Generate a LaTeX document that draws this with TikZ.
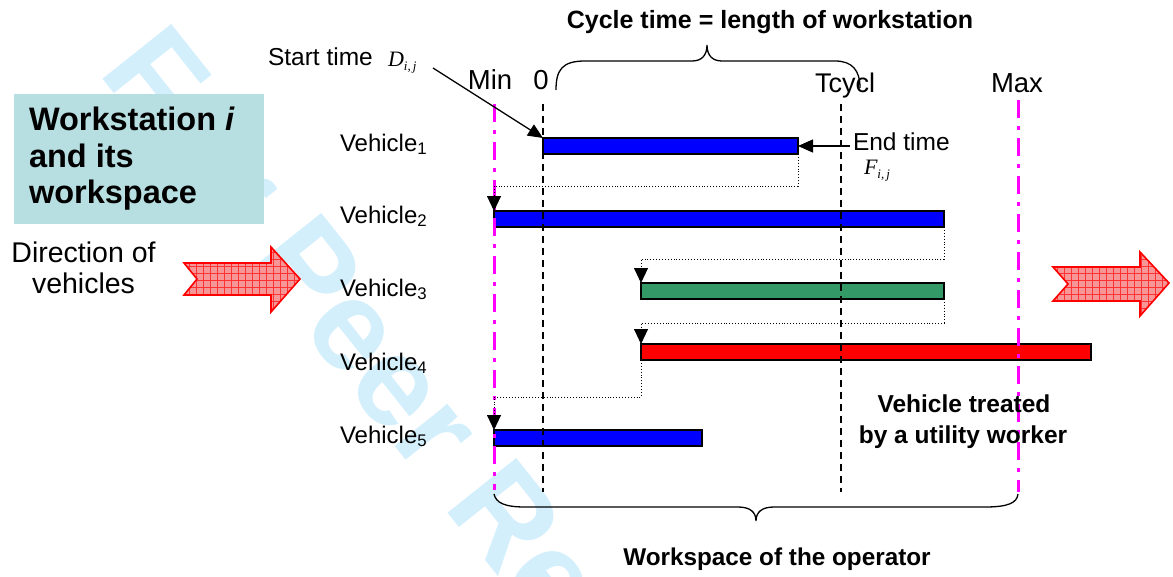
\documentclass[tikz,border=0pt]{standalone}
\usepackage{fontspec}
\setmainfont{Liberation Sans}
\newfontfamily\serifit{Liberation Serif}
\usetikzlibrary{arrows.meta,calc}
\definecolor{wm}{RGB}{212,239,252}
\definecolor{boxc}{RGB}{183,222,224}
\definecolor{vgreen}{RGB}{51,153,102}
\definecolor{mag}{RGB}{255,0,255}
\definecolor{arrowfill}{RGB}{247,150,150}
\newcommand{\fsz}[1]{\fontsize{#1}{#1}\selectfont}
\newcommand{\symb}[1]{{\serifit\itshape #1}{\fontsize{13}{13}\selectfont\serifit\itshape\raisebox{-4pt}{i,\,j}}}
\begin{document}
\begin{tikzpicture}[x=1pt,y=-1pt,
  lbl/.style={inner sep=0, outer sep=0},
  bar/.style={draw=black, line width=1.3pt, minimum height=16pt, inner sep=0, outer sep=0, anchor=north west},
  conn/.style={line width=0.9pt, dotted, -{Triangle[width=14pt,length=15pt]}},
  ptr/.style={line width=1.3pt, -{Triangle[width=13pt,length=15pt]}},
  magline/.style={mag, line width=3pt, dash pattern=on 18pt off 8pt on 4pt off 8pt},
  blkdash/.style={black, line width=1.3pt, dash pattern=on 7pt off 5pt},
  brace/.style={line width=1.3pt},
  arrowedge/.style={red, line width=1.6pt, line join=miter}
]
\useasboundingbox (0,0) rectangle (1173,576);

% watermark
\node[lbl, anchor=base west, rotate=-51.5, text=wm, font=\fsz{128}\bfseries] (wmark) at (97,72) {For Peer Review};

% workstation box
\node[fill=boxc, minimum width=250pt, minimum height=130pt, anchor=north west, inner sep=0, outer sep=0] (ws) at (14,94) {};
\node[lbl, anchor=base west, font=\fsz{32.5}\bfseries] (ws1) at (29,130) {Workstation \textit{i}};
\node[lbl, anchor=base west, font=\fsz{32.5}\bfseries] (ws2) at (29,167) {and its};
\node[lbl, anchor=base west, font=\fsz{32.5}\bfseries] (ws3) at (29,203) {workspace};

% direction
\node[lbl, anchor=base, font=\fsz{28.5}] (dir1) at (83.5,262) {Direction of};
\node[lbl, anchor=base, font=\fsz{28.5}] (dir2) at (83.5,293) {vehicles};

% left hatched arrow
\begin{scope}
\clip (184,263) -- (271,263) -- (271,247) -- (300,279) -- (271,312) -- (271,295) -- (184,295) -- (197,279) -- cycle;
\fill[arrowfill] (170,240) rectangle (310,320);
\draw[red!80, line width=0.5pt, step=7pt] (170,240) grid (310,320);
\end{scope}
\draw[arrowedge] (184,263) -- (271,263) -- (271,247) -- (300,279) -- (271,312) -- (271,295) -- (184,295) -- (197,279) -- cycle;

% right hatched arrow
\begin{scope}
\clip (1053,267) -- (1140,267) -- (1140,252) -- (1169,283) -- (1140,316) -- (1140,301) -- (1053,301) -- (1068,284) -- cycle;
\fill[arrowfill] (1040,240) rectangle (1173,320);
\draw[red!80, line width=0.5pt, step=7pt] (1040,240) grid (1173,320);
\end{scope}
\draw[arrowedge] (1053,267) -- (1140,267) -- (1140,252) -- (1169,283) -- (1140,316) -- (1140,301) -- (1053,301) -- (1068,284) -- cycle;

% bars
\node[bar, fill=blue, minimum width=255pt] (b1) at (543,138) {};
\node[bar, fill=blue, minimum width=450pt] (b2) at (494,211) {};
\node[bar, fill=vgreen, minimum width=303pt] (b3) at (641,283) {};
\node[bar, fill=red, minimum width=450pt] (b4) at (641,344) {};
\node[bar, fill=blue, minimum width=208pt] (b5) at (494,430) {};

% vertical lines
\draw[magline] (494,104) -- (494,490);
\draw[magline] (1018,100) -- (1018,492);
\draw[blkdash] (543,104) -- (543,492);
\draw[blkdash] (841,104) -- (841,492);

% dotted connectors
\draw[conn] (b1.south east) -- (b1.south east |- 0,186) -| (b2.north west);
\draw[conn] (b2.south east) -- ++(0,32) -| (b3.north west);
\draw[conn] (b3.south east) -- ++(0,24) -| (b4.north west);
\draw[conn] (b4.south west) -- ++(0,37) -| (b5.north west);

% axis labels
\node[lbl, anchor=base, font=\fsz{27.5}] (minl) at (490,89) {Min};
\node[lbl, anchor=base, font=\fsz{27.5}] (zerol) at (541,89) {0};
\node[lbl, anchor=base, font=\fsz{27}] (tcl) at (845,92) {Tcycl};
\node[lbl, anchor=base, font=\fsz{27.5}] (maxl) at (1017,92) {Max};

% braces
\draw[brace] (556,90) .. controls (556,70) and (562,61) .. (585,61) -- (692,61) .. controls (702,61) and (707,55) .. (707,45) .. controls (707,55) and (712,61) .. (722,61) -- (835,61) .. controls (852,61) and (860,70) .. (860,88);
\draw[brace] (494,494) .. controls (496,503) and (505,507) .. (525,507) -- (738,507) .. controls (750,507) and (756,512) .. (756,521) .. controls (756,512) and (762,507) .. (774,507) -- (985,507) .. controls (1008,507) and (1017,503) .. (1018,494);

\node[lbl, anchor=base, font=\fsz{25}\bfseries] (cyc) at (770,28) {Cycle time = length of workstation};
\node[lbl, anchor=base, font=\fsz{24.3}\bfseries] (wso) at (777,565) {Workspace of the operator};

% start / end time
\node[lbl, anchor=base west, font=\fsz{24.5}] (stt) at (268,65) {Start time};
\node[lbl, anchor=base west, font=\fsz{22}] (dij) at (388,66) {\symb{D}};
\coordinate (stc) at (433,68);
\draw[ptr] (stc) -- (b1.north west);

\node[lbl, anchor=base west, font=\fsz{24.5}] (et) at (853,150) {End time};
\node[lbl, anchor=base west, font=\fsz{22}] (fij) at (864,174) {\symb{F}};
\draw[ptr] ([xshift=-3pt]et.west |- b1.east) -- (b1.east);

% vehicle labels
\node[lbl, anchor=base west, font=\fsz{24}] (v1) at (340,151) {Vehicle\textsubscript{1}};
\node[lbl, anchor=base west, font=\fsz{24}] (v2) at (340,223) {Vehicle\textsubscript{2}};
\node[lbl, anchor=base west, font=\fsz{24}] (v3) at (340,296) {Vehicle\textsubscript{3}};
\node[lbl, anchor=base west, font=\fsz{24}] (v4) at (340,370) {Vehicle\textsubscript{4}};
\node[lbl, anchor=base west, font=\fsz{24}] (v5) at (340,443) {Vehicle\textsubscript{5}};

\node[lbl, anchor=base, font=\fsz{24.5}\bfseries] (ut1) at (964,412) {Vehicle treated};
\node[lbl, anchor=base, font=\fsz{24.5}\bfseries] (ut2) at (963,443) {by a utility worker};
\end{tikzpicture}
\end{document}
